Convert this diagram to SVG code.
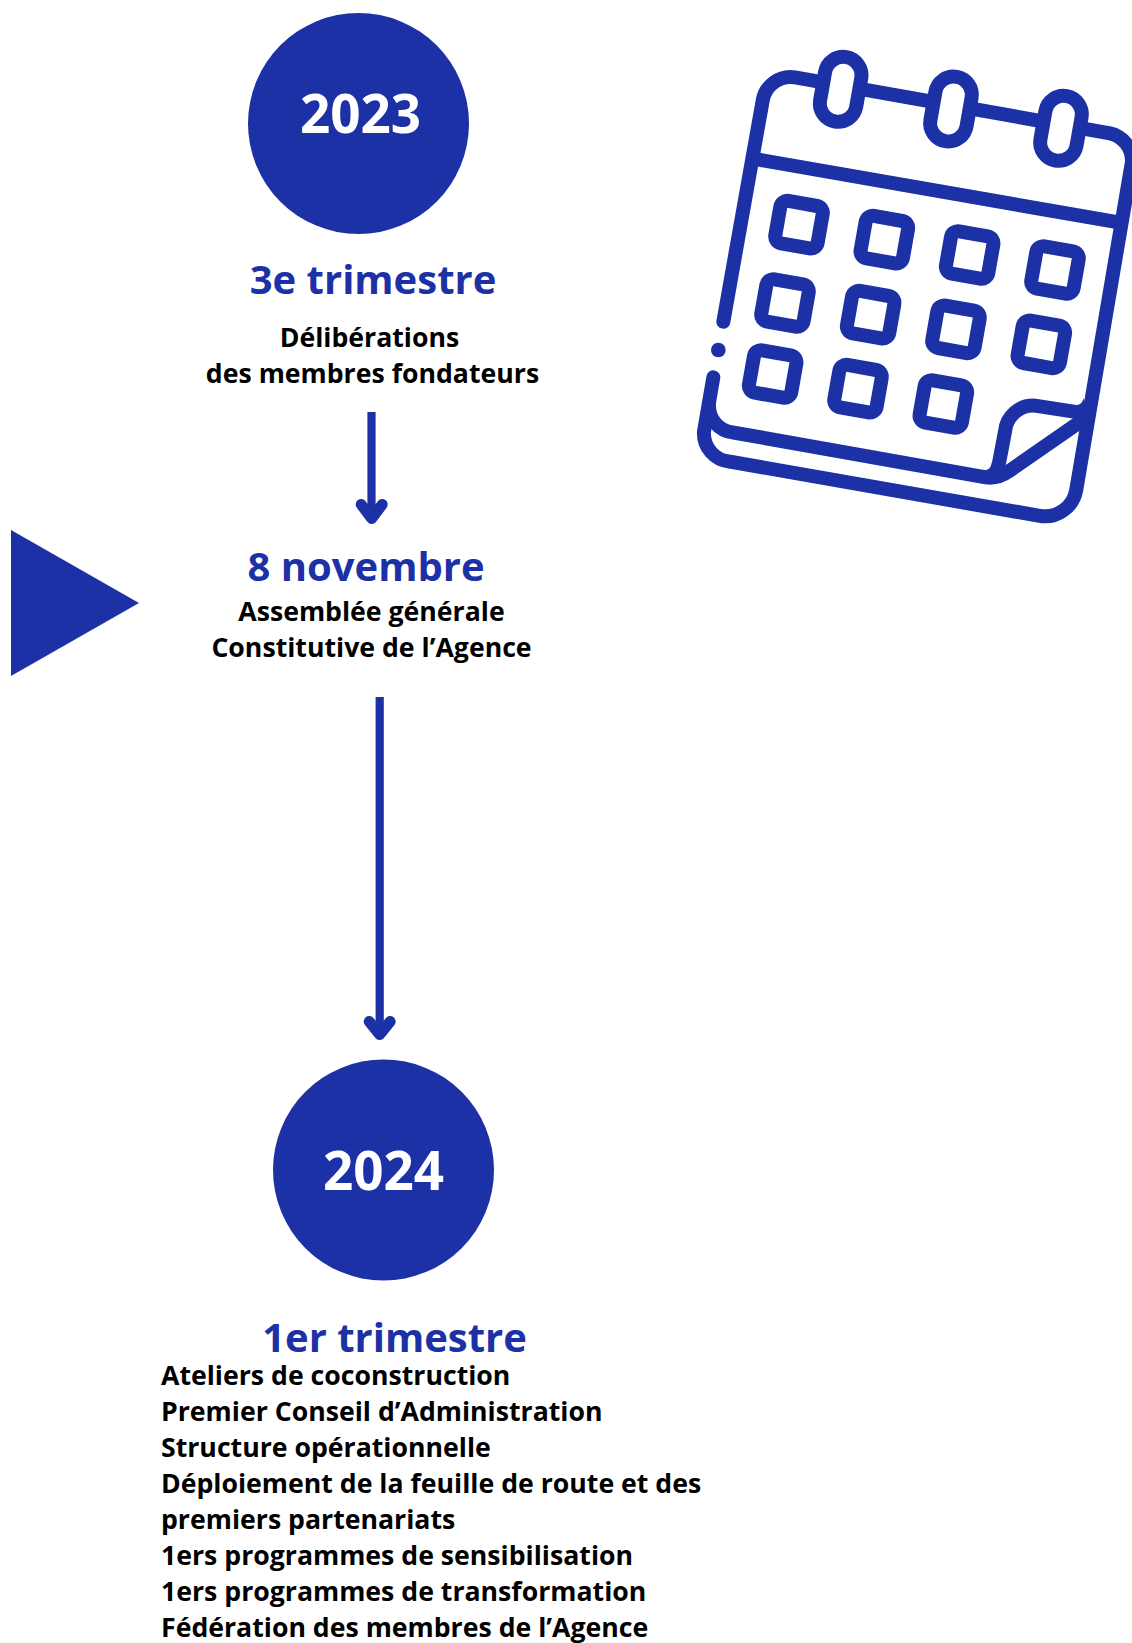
<svg xmlns="http://www.w3.org/2000/svg" width="1132" height="1643" viewBox="0 0 1132 1643">
<style>
text{font-family:"Open Sans","Noto Sans",sans-serif;font-weight:700}
.y{font-size:53px;fill:#fff;text-anchor:middle}
.h{font-size:40px;fill:#1c31a5;text-anchor:middle}
.b{font-size:26.67px;fill:#000;text-anchor:middle}
.l{font-size:26.67px;fill:#000}
.f{fill:#1c31a5}
.s{fill:none;stroke:#1c31a5;stroke-width:8.200}
.a{fill:none;stroke:#1c31a5;stroke-width:11;stroke-linecap:round;stroke-linejoin:round}
.i{fill:none;stroke:#1c31a5;stroke-width:42;stroke-linecap:round;stroke-linejoin:round}
.r{fill:#fff;stroke:#1c31a5;stroke-width:42}
</style>
<defs>
<rect id="sq" x="-64.5" y="-64.5" width="129" height="129" rx="21" class="i"/>
<rect id="ring" x="-55" y="-98" width="110" height="196" rx="55" class="r"/>
</defs>
<rect width="1132" height="1643" fill="#fff"/>
<g id="connectors">
<path class="s" d="M371.500 412V516"/><path class="a" d="M361.200 504.500L371.700 518.500L382.200 504.500"/>
<path class="s" d="M379.700 697V1032"/><path class="a" d="M369.200 1021.500L379.700 1034.500L390.200 1021.500"/>
</g>
<g id="year-2023"><circle class="f" cx="358.500" cy="123.500" r="110.500"/><text class="y" x="360.500" y="132.500">2023</text></g>
<g id="q3-2023"><text class="h" x="373" y="294">3e trimestre</text>
<text class="b" x="369.500" y="347">Délibérations</text><text class="b" x="372.500" y="383">des membres fondateurs</text></g>
<g id="marker"><polygon class="f" points="11,530 139,603 11,676"/></g>
<g id="nov-2023"><text class="h" x="366" y="580.500">8 novembre</text>
<text class="b" x="371.500" y="621">Assemblée générale</text><text class="b" x="371.500" y="657">Constitutive de l’Agence</text></g>
<g id="year-2024"><circle class="f" cx="383.500" cy="1170" r="110.500"/><text class="y" x="383.500" y="1190">2024</text></g>
<g id="q1-2024"><text class="h" x="394.500" y="1352">1er trimestre</text>
<text class="l" x="161" y="1385">Ateliers de coconstruction</text>
<text class="l" x="161" y="1421">Premier Conseil d’Administration</text>
<text class="l" x="161" y="1457">Structure opérationnelle</text>
<text class="l" x="161" y="1493">Déploiement de la feuille de route et des</text>
<text class="l" x="161" y="1529">premiers partenariats</text>
<text class="l" x="161" y="1565">1ers programmes de sensibilisation</text>
<text class="l" x="161" y="1601">1ers programmes de transformation</text>
<text class="l" x="161" y="1637">Fédération des membres de l’Agence</text></g>
<g id="calendar" transform="translate(680 30) scale(.33333)">
<path class="i" d="M130 875L248 212A85 85 0 0 1 345 142L1290 310A85 85 0 0 1 1356 395L1188.600 1380.300A95 95 0 0 1 1079 1457.600L150 1295A85 85 0 0 1 72 1205L100 1042"/>
<path class="i" d="M87 1125A80 80 0 0 0 157 1207L905 1340Q950 1350 985 1325L1205 1172"/>
<path class="i" d="M955 1310L975 1205A85 85 0 0 1 1065 1127L1215 1150M236 389L1303 575"/>
<path class="f" d="M915 1320Q933 1320 936 1295L960 1335ZM1190 1125Q1207 1125 1210 1105L1228 1155Z"/>
<circle class="f" cx="115" cy="960" r="22"/>
<use href="#ring" transform="translate(482 178) rotate(10)"/>
<use href="#ring" transform="translate(813 237) rotate(10)"/>
<use href="#ring" transform="translate(1143 295) rotate(10)"/>
<use href="#sq" transform="translate(357 584) rotate(10)"/>
<use href="#sq" transform="translate(613 629) rotate(10)"/>
<use href="#sq" transform="translate(869 675) rotate(10)"/>
<use href="#sq" transform="translate(1125 720) rotate(10)"/>
<use href="#sq" transform="translate(315 819) rotate(10)"/>
<use href="#sq" transform="translate(572 854) rotate(10)"/>
<use href="#sq" transform="translate(828 898) rotate(10)"/>
<use href="#sq" transform="translate(1084 943) rotate(10)"/>
<use href="#sq" transform="translate(278 1032) rotate(10)"/>
<use href="#sq" transform="translate(534 1076) rotate(10)"/>
<use href="#sq" transform="translate(790 1122) rotate(10)"/>
</g>
</svg>
